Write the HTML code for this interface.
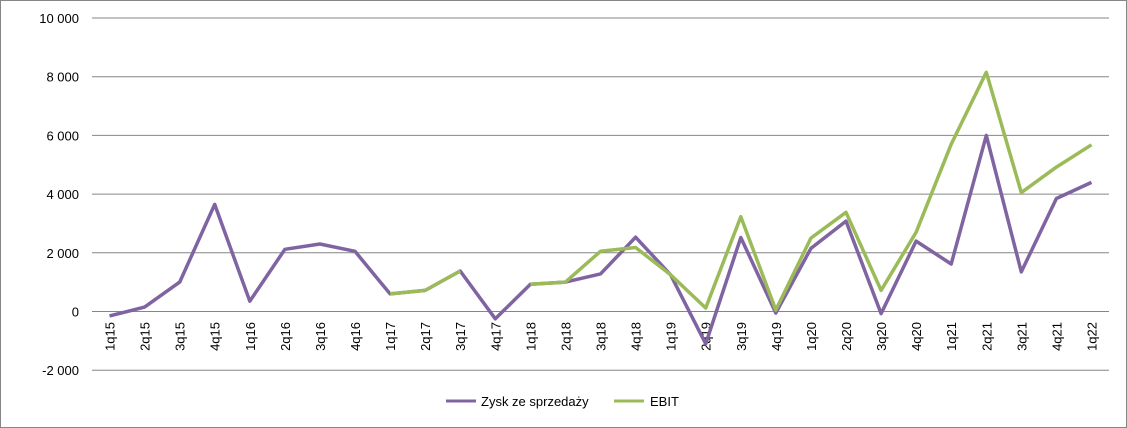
<!DOCTYPE html>
<html><head><meta charset="utf-8"><style>
body{margin:0;background:#fff}
svg{display:block;font-family:"Liberation Sans",sans-serif}
</style></head><body>
<svg width="1127" height="428" id="c">
<rect x="0.5" y="0.5" width="1126" height="427" fill="#fff" stroke="#868686"/>
<g id="grid"></g><g id="xl"></g><g id="lines"></g>
<g>
<line x1="446" y1="401" x2="476" y2="401" stroke="#8064a2" stroke-width="3"/>
<text x="481" y="406" font-size="13">Zysk ze sprzedaży</text>
<line x1="614" y1="401" x2="644" y2="401" stroke="#9bbb59" stroke-width="3"/>
<text x="650" y="406" font-size="13">EBIT</text>
</g>
</svg>
<script>
const categories=["1q15","2q15","3q15","4q15","1q16","2q16","3q16","4q16","1q17","2q17","3q17","4q17","1q18","2q18","3q18","4q18","1q19","2q19","3q19","4q19","1q20","2q20","3q20","4q20","1q21","2q21","3q21","4q21","1q22"];
const zysk=[-150,150,1000,3650,350,2120,2300,2050,600,720,1380,-250,930,1000,1280,2530,1250,-1100,2520,-50,2150,3080,-70,2400,1620,6000,1350,3850,4400];
const ebit=[null,null,null,null,null,null,null,null,600,720,1380,null,930,1000,2050,2180,1250,120,3230,50,2500,3380,720,2700,5700,8150,4050,4920,5680];
const yTicks=[-2000,0,2000,4000,6000,8000,10000];
const tickLabels=["-2 000","0","2 000","4 000","6 000","8 000","10 000"];
const NS="http://www.w3.org/2000/svg";
const x0=92,x1=1109,y0val=311.5,pxPer=29.35/1000;
const step=(x1-x0)/categories.length;
function xS(i){return x0+step*(i+0.5);}
function yS(v){return y0val-v*pxPer;}
const grid=document.getElementById('grid');
yTicks.forEach((t,k)=>{
 const l=document.createElementNS(NS,'line');
 l.setAttribute('x1',x0);l.setAttribute('x2',x1);l.setAttribute('y1',yS(t));l.setAttribute('y2',yS(t));
 l.setAttribute('stroke','#868686');l.setAttribute('stroke-width','1');
 
 
 grid.appendChild(l);
 const tx=document.createElementNS(NS,'text');
 tx.setAttribute('x',79);tx.setAttribute('y',yS(t)+5);tx.setAttribute('text-anchor','end');tx.setAttribute('font-size','13');
 tx.textContent=tickLabels[k];
 
 
 grid.appendChild(tx);
});
const xl=document.getElementById('xl');
categories.forEach((c,i)=>{
 const tx=document.createElementNS(NS,'text');
 const x=xS(i)+5,y=322;
 tx.setAttribute('transform','translate('+x+','+y+') rotate(-90)');
 tx.setAttribute('text-anchor','end');tx.setAttribute('font-size','13');
 tx.textContent=c;
 
 
 xl.appendChild(tx);
});
function draw(arr,color,name){
 let d='',pen=false;
 arr.forEach((v,i)=>{
  if(v===null){pen=false;return;}
  d+=(pen?'L':'M')+xS(i).toFixed(1)+' '+yS(v).toFixed(1)+' ';pen=true;
 });
 const p=document.createElementNS(NS,'path');
 p.setAttribute('d',d);p.setAttribute('fill','none');p.setAttribute('stroke',color);
 p.setAttribute('stroke-width','3.5');p.setAttribute('stroke-linejoin','round');
 
 
 document.getElementById('lines').appendChild(p);
}
draw(zysk,'#8064a2','zysk-line');
draw(ebit,'#9bbb59','ebit-line');
</script>
</body></html>
